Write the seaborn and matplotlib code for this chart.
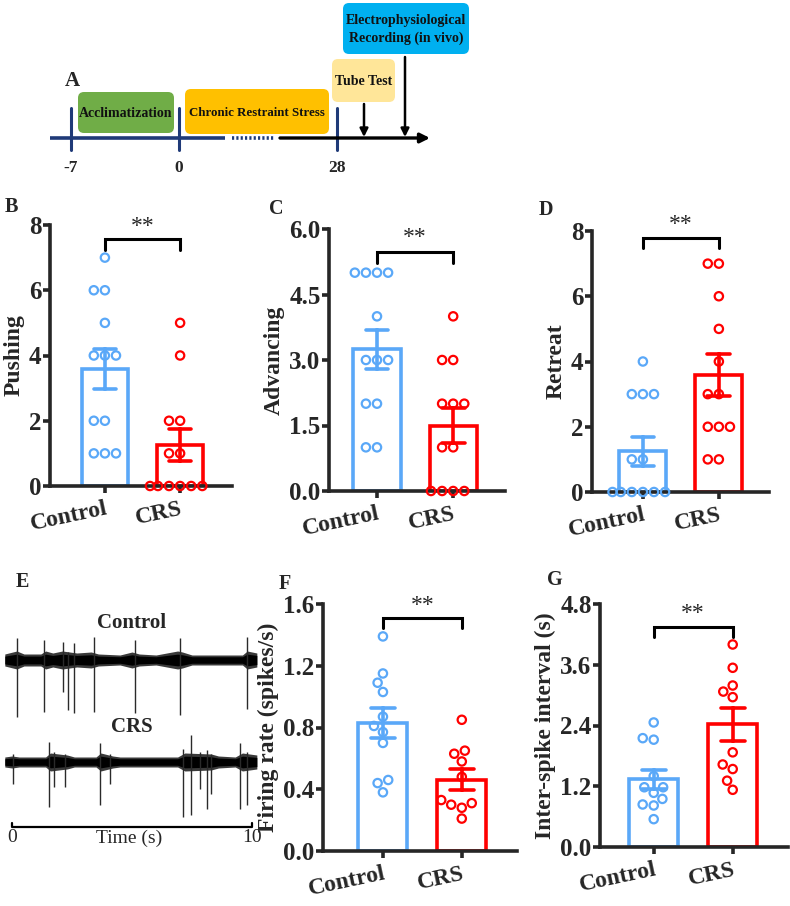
import numpy as np
import pandas as pd
import matplotlib
matplotlib.use('Agg')
import matplotlib.pyplot as plt
import seaborn as sns
from matplotlib.patches import FancyBboxPatch

sns.set_style('ticks')
plt.rcParams['font.family'] = ['Liberation Serif', 'DejaVu Serif']
plt.rcParams['font.weight'] = 'bold'
plt.rcParams['axes.labelweight'] = 'bold'

# ---------------- data ----------------
groups = ['Control', 'CRS']
BLUE = '#5AA8F8'
RED = '#FF0000'

pushing_control = [7, 6, 6, 5, 4, 4, 4, 2, 2, 1, 1, 1]
pushing_crs = [5, 4, 2, 2, 1, 1, 0, 0, 0, 0, 0, 0]
advancing_control = [5, 5, 5, 5, 4, 3, 3, 3, 2, 2, 1, 1]
advancing_crs = [4, 3, 3, 2, 2, 2, 1, 1, 0, 0, 0, 0]
retreat_control = [4, 3, 3, 3, 1, 1, 0, 0, 0, 0, 0, 0]
retreat_crs = [7, 7, 6, 5, 4, 3, 3, 2, 2, 2, 1, 1]
firing_control = [1.39, 1.15, 1.09, 1.03, 0.87, 0.81, 0.77, 0.70, 0.46, 0.44, 0.38]
firing_crs = [0.85, 0.65, 0.63, 0.58, 0.48, 0.33, 0.31, 0.30, 0.28, 0.21]
isi_control = [2.46, 2.15, 2.12, 1.40, 1.18, 1.18, 1.07, 0.95, 0.84, 0.82, 0.55]
isi_crs = [4.00, 3.54, 3.19, 3.07, 2.96, 1.87, 1.63, 1.54, 1.31, 1.13]

# timeline (panel A)
stages = ['Acclimatization', 'Chronic Restraint Stress', 'Tube Test',
          'Electrophysiological\nRecording (in vivo)']
stage_colors = ['#70AD47', '#FFC000', '#FFE699', '#00B0F0']
day_labels = ['-7', '0', '28']

# traces (panel E): spike times (s), downward / upward amplitudes (a.u.)
ctrl_spike_t = [0.21, 1.32, 2.12, 2.33, 2.57, 3.40, 5.14, 7.01, 9.79]
ctrl_spike_dn = [57, 52, 32, 50, 53, 52, 53, 55, 49]
ctrl_spike_up = [22, 20, 18, 8, 17, 23, 20, 22, 23]
ctrl_env_t = [-0.3, 0.2, 0.5, 1.2, 1.4, 1.7, 2.1, 2.7, 3.3, 3.6, 4.5, 5.0, 5.3, 6.0, 6.9, 7.1, 7.5, 9.6, 9.8, 10.2]
ctrl_env_w = [6, 9, 6, 6, 9, 7, 9, 7, 8, 6, 5, 8, 6, 5, 9, 8, 5, 5, 9, 7]
crs_spike_t = [0.03, 1.56, 1.74, 2.19, 3.65, 4.10, 7.12, 7.46, 7.85, 8.13, 8.29, 9.51, 9.79]
crs_spike_dn = [22, 45, 25, 25, 43, 22, 55, 53, 27, 47, 32, 47, 43]
crs_spike_up = [8, 20, 10, 8, 19, 8, 13, 27, 10, 12, 8, 19, 10]
crs_env_t = [-0.3, 0.0, 0.3, 1.4, 1.6, 2.3, 2.6, 3.5, 3.7, 4.2, 4.5, 6.9, 7.2, 8.3, 8.6, 9.3, 9.6, 10.2]
crs_env_w = [5, 6, 5, 5, 9, 7, 5, 5, 9, 6, 5, 5, 9, 8, 6, 5, 9, 7]

W, H = 790, 906
fig = plt.figure(figsize=(W / 100, H / 100), dpi=100)


def rect(x0, y0, x1, y1):
    return [x0 / W, 1 - y1 / H, (x1 - x0) / W, (y1 - y0) / H]


def ptxt(x, y, s, **kw):
    fig.text(x / W, 1 - y / H, s, **kw)


# ---------------- panel A ----------------
axA = fig.add_axes([0, 1 - 180 / H, 1, 180 / H])
axA.set_xlim(0, W)
axA.set_ylim(180, 0)
axA.axis('off')
box_geo = [(78, 92, 174, 133), (185, 89, 329, 134), (332, 59, 395, 102), (343, 3, 469, 54)]
box_fs = [10, 9.3, 10, 10]
for (x0, y0, x1, y1), s, c, fs in zip(box_geo, stages, stage_colors, box_fs):
    axA.add_patch(FancyBboxPatch((x0, y0), x1 - x0, y1 - y0,
                                 boxstyle='round,pad=0,rounding_size=6',
                                 facecolor=c, edgecolor='none'))
    axA.text((x0 + x1) / 2, (y0 + y1) / 2 + 1, s, ha='center', va='center',
             fontsize=fs, fontweight='bold', color='#111111', linespacing=1.35)
NAVY = '#1F3A78'
axA.plot([50, 225], [138, 138], color=NAVY, lw=2.6, solid_capstyle='butt')
axA.plot([232, 275], [138, 138], color=NAVY, lw=2.6, ls=(0, (0.6, 0.6)))
axA.annotate('', xy=(430, 138), xytext=(280, 138),
             arrowprops=dict(arrowstyle='-|>', color='black', lw=2.4, mutation_scale=14,
                             shrinkA=0, shrinkB=0))
for x, lab in zip([71, 179, 337], day_labels):
    axA.plot([x, x], [108, 150], color=NAVY, lw=2.2)
    axA.text(x, 168, lab, ha='center', va='center', fontsize=12.5, fontweight='bold')
for x, y0 in [(364, 104), (405, 57)]:
    axA.annotate('', xy=(x, 137), xytext=(x, y0),
                 arrowprops=dict(arrowstyle='-|>', color='black', lw=1.8, mutation_scale=12,
                                 shrinkA=0, shrinkB=0))
axA.text(72, 81, 'A', ha='center', va='center', fontsize=15, fontweight='bold')


# ---------------- bar panels ----------------
def bar_panel(r, ctrl, crs, ylabel, yticks, yticklabels, xlim, sig):
    ax = fig.add_axes(r)
    df = pd.DataFrame({'group': ['Control'] * len(ctrl) + ['CRS'] * len(crs),
                       'value': list(ctrl) + list(crs)})
    sns.barplot(data=df, x='group', y='value', hue='group', order=groups, hue_order=groups,
                palette=[BLUE, RED], fill=False, errorbar='se', capsize=0.3, width=0.62,
                linewidth=2.6, err_kws={'linewidth': 2.6, 'zorder': 4}, legend=False, ax=ax)
    n0 = len(ax.collections)
    sns.swarmplot(data=df, x='group', y='value', hue='group', order=groups, hue_order=groups,
                  palette=[BLUE, RED], size=6, legend=False, ax=ax, zorder=3)
    for coll in ax.collections[n0:]:
        fc = coll.get_facecolors()
        coll.set_edgecolors(fc)
        coll.set_facecolors('none')
        coll.set_linewidth(1.6)
        coll.set_clip_on(False)
    ax.set_xlim(*xlim)
    ax.set_ylim(0, yticks[-1])
    ax.set_yticks(yticks)
    ax.set_yticklabels(yticklabels)
    sns.despine(ax=ax)
    for s in ['left', 'bottom']:
        ax.spines[s].set_linewidth(2.6)
    ax.tick_params(axis='both', width=2.6, length=5, labelsize=18, pad=1)
    ax.tick_params(axis='x', labelsize=17, pad=4)
    for lab in ax.get_xticklabels():
        lab.set_rotation(12)
        lab.set_ha('right')
        lab.set_rotation_mode('anchor')
    ax.set_xlabel('')
    ax.set_ylabel(ylabel, fontsize=17, fontweight='bold', labelpad=3)
    leg, top, star = sig
    ax.plot([0, 0, 1, 1], [leg, top, top, leg], color='black', lw=2.2, clip_on=False,
            solid_joinstyle='miter')
    ax.text(0.5, star, '**', ha='center', va='center', fontsize=17, fontweight='normal',
            clip_on=False)
    return ax


bar_panel(rect(50, 225, 232, 486), pushing_control, pushing_crs, 'Pushing',
          [0, 2, 4, 6, 8], ['0', '2', '4', '6', '8'], (-0.73, 1.69), (7.23, 7.57, 7.95))
bar_panel(rect(329, 229, 505, 491), advancing_control, advancing_crs, 'Advancing',
          [0, 1.5, 3.0, 4.5, 6.0], ['0.0', '1.5', '3.0', '4.5', '6.0'], (-0.63, 1.68),
          (5.23, 5.48, 5.8))
bar_panel(rect(592, 231, 769, 492), retreat_control, retreat_crs, 'Retreat',
          [0, 2, 4, 6, 8], ['0', '2', '4', '6', '8'], (-0.67, 1.66), (7.47, 7.78, 8.2))
bar_panel(rect(323, 604, 517, 851), firing_control, firing_crs, 'Firing rate (spikes/s)',
          [0, 0.4, 0.8, 1.2, 1.6], ['0.0', '0.4', '0.8', '1.2', '1.6'], (-0.76, 1.70),
          (1.443, 1.51, 1.59))
bar_panel(rect(600, 604, 788, 847), isi_control, isi_crs, 'Inter-spike interval (s)',
          [0, 1.2, 2.4, 3.6, 4.8], ['0.0', '1.2', '2.4', '3.6', '4.8'], (-0.68, 1.70),
          (4.15, 4.35, 4.62))

# ---------------- panel E ----------------
axE = fig.add_axes(rect(0, 570, 265, 906))
axE.set_xlim(-0.5, 10.54)
axE.set_ylim(-336, 0)
axE.axis('off')
c0, c1 = -90, -192
for env_t, env_w, spk_t, spk_dn, spk_up, c in [
        (ctrl_env_t, ctrl_env_w, ctrl_spike_t, ctrl_spike_dn, ctrl_spike_up, c0),
        (crs_env_t, crs_env_w, crs_spike_t, crs_spike_dn, crs_spike_up, c1)]:
    axE.fill_between(env_t, [c - w for w in env_w], [c + w for w in env_w],
                     color='#3a3a3a', lw=0)
    axE.fill_between(env_t, [c - 0.65 * w for w in env_w], [c + 0.65 * w for w in env_w],
                     color='black', lw=0)
    axE.vlines(spk_t, [c - d for d in spk_dn], [c + u for u in spk_up],
               color='#2a2a2a', lw=1.0)
axE.text(5.0, -53, 'Control', ha='center', va='center', fontsize=15, fontweight='bold')
axE.text(5.0, -157, 'CRS', ha='center', va='center', fontsize=15, fontweight='bold')
axE.plot([0, 0, 10, 10], [-253, -257, -257, -253], color='black', lw=1.6)
axE.text(0, -268, '0', ha='center', va='center', fontsize=14, fontweight='normal')
axE.text(10, -268, '10', ha='center', va='center', fontsize=14, fontweight='normal')
axE.text(4.9, -268, 'Time (s)', ha='center', va='center', fontsize=14, fontweight='normal')

# panel letters
for (x, y), s in zip([(11, 207), (276, 209), (546, 210), (22, 582), (285, 584), (555, 580)],
                     ['B', 'C', 'D', 'E', 'F', 'G']):
    ptxt(x, y, s, ha='center', va='center', fontsize=14.5, fontweight='bold')

fig.savefig('out.png', dpi=100)
